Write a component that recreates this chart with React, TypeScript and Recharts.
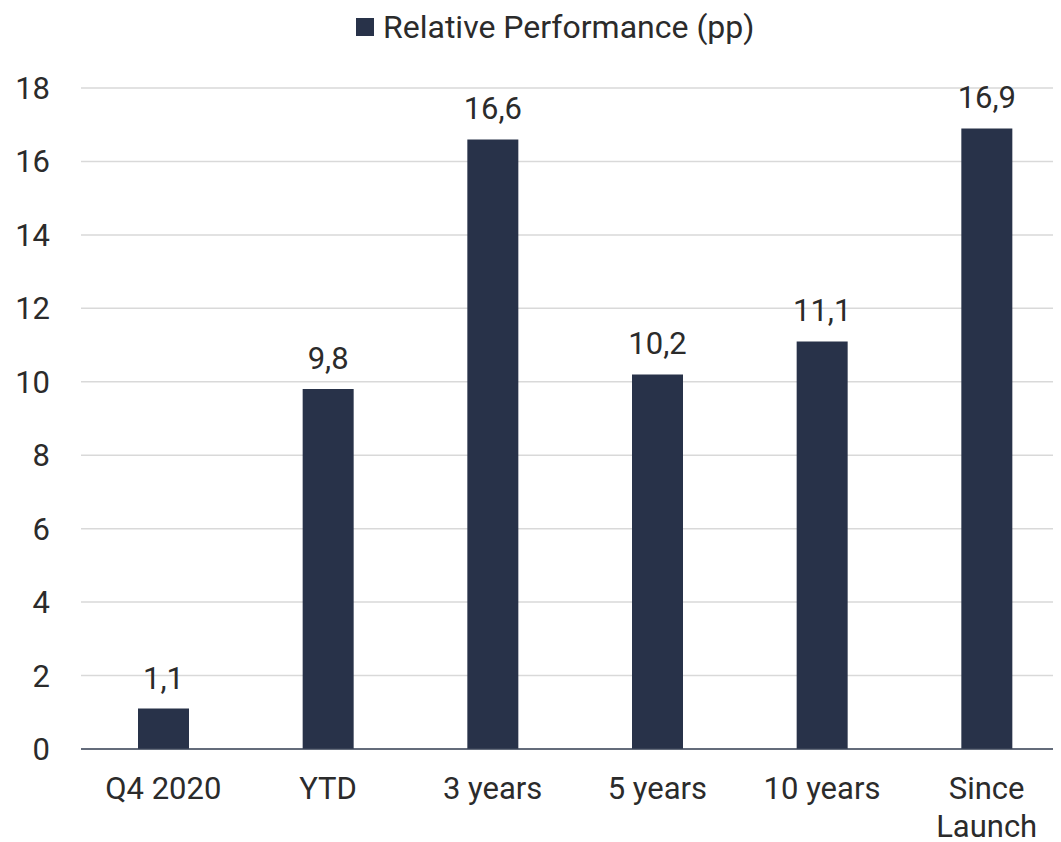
import React from "react";
import { BarChart, Bar, XAxis, YAxis, CartesianGrid, Legend, LabelList } from "recharts";

const categories = ["Q4 2020", "YTD", "3 years", "5 years", "10 years", "Since Launch"];
const relativePerformance = [1.1, 9.8, 16.6, 10.2, 11.1, 16.9];
const yTicks = [0, 2, 4, 6, 8, 10, 12, 14, 16, 18];
const seriesName = "Relative Performance (pp)";

const data = categories.map((c, i) => ({ name: c, value: relativePerformance[i] }));

const BAR = "#283249";
const TEXT = "#2b2b2b";
const FONT = "Roboto, sans-serif";
const FS = 31;

const XTick = (props: any) => {
  const { x, y, payload } = props;
  const label = String(payload.value);
  const lines = label.length > 10 ? label.split(" ") : [label];
  return (
    <text
      x={x}
      y={y + 28}
      textAnchor="middle"
      fill={TEXT}
      fontSize={FS}
      fontFamily={FONT}
    >
      {lines.map((ln, i) => (
        <tspan key={i} x={x} dy={i === 0 ? "0.71em" : 38}>
          {ln}
        </tspan>
      ))}
    </text>
  );
};

const LegendContent = () => (
  <div style={{ display: "flex", alignItems: "center", fontFamily: FONT, fontSize: 32, color: TEXT, whiteSpace: "nowrap" }}>
    <span style={{ display: "inline-block", width: 18, height: 18, background: BAR, marginRight: 9 }} />
    <span>{seriesName}</span>
  </div>
);

export default function App() {
  return (
    <BarChart
      width={1070}
      height={834}
      data={data}
      margin={{ top: 80, right: 9, bottom: 33, left: 0 }}
      barCategoryGap={0}
    >
      <CartesianGrid vertical={false} stroke="#d9d9d9" strokeWidth={1.5} />
      <Legend
        layout="horizontal"
        verticalAlign="middle"
        align="center"
        content={<LegendContent />}
        wrapperStyle={{ position: "absolute", top: 0, left: 348, width: "auto" }}
      />
      <XAxis
        dataKey="name"
        axisLine={{ stroke: "#3a4458", strokeWidth: 1.5 }}
        tickLine={false}
        tickSize={0}
        tickMargin={0}
        height={60}
        interval={0}
        tick={<XTick />}
      />
      <YAxis
        domain={[0, 18]}
        ticks={yTicks}
        axisLine={false}
        tickLine={false}
        tickSize={0}
        tickMargin={31}
        width={73}
        tick={{ fill: TEXT, fontSize: FS, fontFamily: FONT }}
        interval={0}
      />
      <Bar dataKey="value" name={seriesName} fill={BAR} barSize={51} isAnimationActive={false}>
        <LabelList
          dataKey="value"
          position="top"
          offset={20}
          fill={TEXT}
          fontSize={FS}
          fontFamily={FONT}
          formatter={(v: any) => String(v).replace(".", ",")}
        />
      </Bar>
    </BarChart>
  );
}
